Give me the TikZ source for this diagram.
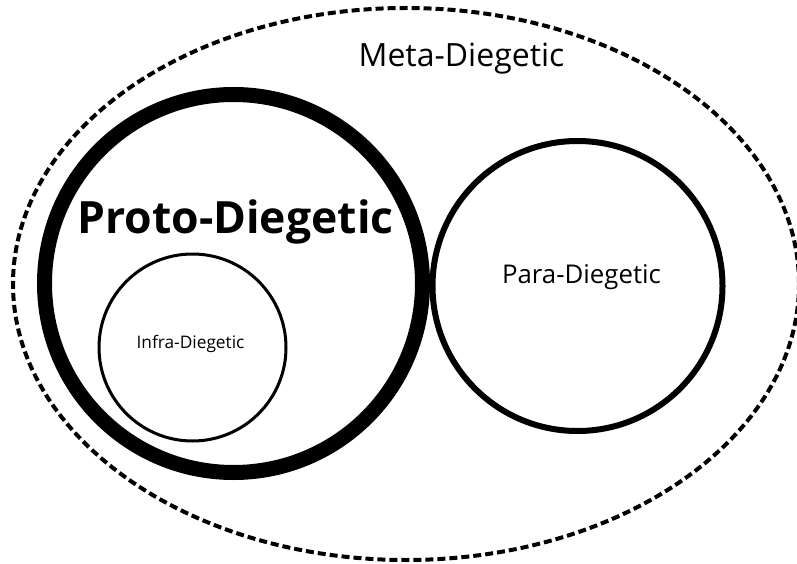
\documentclass[tikz,border=0pt]{standalone}
\usepackage{fontspec}
\setmainfont{Open Sans}
\usetikzlibrary{shapes.geometric}
\begin{document}
\begin{tikzpicture}[x=1pt,y=-1pt]
	\tikzstyle{every node}+=[inner sep=0pt]
	\tikzset{
		ring/.style={circle, draw=black, inner sep=0pt},
		tag/.style={anchor=base, text=black}
	}
	\useasboundingbox (0,0) rectangle (797,564);
	\node [ellipse, draw=black, line width=4pt, dash pattern=on 8pt off 4pt,
		minimum width=786pt, minimum height=552pt] (meta) at (406,284) {};
	\node [ring, line width=15pt, minimum size=378pt] (proto) at (233.5,283.5) {};
	\node [ring, line width=6pt, minimum size=290pt] (para) at (577.5,286) {};
	\node [ring, line width=3pt, minimum size=187pt] (infra) at (192.5,347.5) {};
	\node [tag, font=\fontsize{32}{32}\selectfont] (metalabel) at (461.5,67) {Meta-Diegetic};
	\node [tag, font=\fontsize{44.5}{44.5}\selectfont\bfseries] (protolabel) at (235.5,233) {Proto-Diegetic};
	\node [tag, font=\fontsize{25.8}{25.8}\selectfont] (paralabel) at (581.5,283) {Para-Diegetic};
	\node [tag, font=\fontsize{17.3}{17.3}\selectfont] (infralabel) at (190.5,348) {Infra-Diegetic};
\end{tikzpicture}
\end{document}
